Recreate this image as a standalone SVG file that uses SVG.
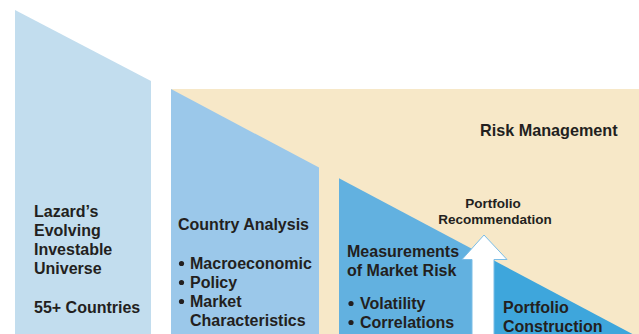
<svg xmlns="http://www.w3.org/2000/svg" width="639" height="334" viewBox="0 0 639 334">
  <style>
    .t { font-family: "Liberation Sans", Arial, sans-serif; font-weight: bold; fill: #231f20; font-size: 16px; }
    .s { font-size: 13.5px; }
    .dot { fill: #231f20; }
  </style>
  <rect width="639" height="334" fill="#ffffff"/>

  <!-- Risk management backdrop -->
  <g id="risk-management">
    <rect x="171" y="89" width="468" height="245" fill="#f7e8c8"/>
    <text class="t" x="480" y="136" style="font-size:16.2px">Risk Management</text>
  </g>

  <!-- Universe column -->
  <g id="universe">
    <polygon points="15,10 151,81 151,334 15,334" fill="#c2ddee"/>
    <text class="t" x="34" y="217">Lazard’s</text>
    <text class="t" x="34" y="236">Evolving</text>
    <text class="t" x="34" y="255">Investable</text>
    <text class="t" x="34" y="274">Universe</text>
    <text class="t" x="34" y="313">55+ Countries</text>
  </g>

  <!-- Country analysis column -->
  <g id="country-analysis">
    <polygon points="171,89 319,167.6 319,334 171,334" fill="#9bc8ea"/>
    <text class="t" x="178" y="230">Country Analysis</text>
    <circle class="dot" cx="181.5" cy="263.5" r="2.6"/><text class="t" x="190" y="269">Macroeconomic</text>
    <circle class="dot" cx="181.5" cy="282.5" r="2.6"/><text class="t" x="190" y="288">Policy</text>
    <circle class="dot" cx="181.5" cy="301.5" r="2.6"/><text class="t" x="190" y="307">Market</text>
    <text class="t" x="190" y="326">Characteristics</text>
  </g>

  <!-- Market risk column -->
  <g id="market-risk">
    <polygon points="339,178.2 494,260.5 494,334 339,334" fill="#62b1e0"/>
    <text class="t" x="347" y="257">Measurements</text>
    <text class="t" x="347" y="276">of Market Risk</text>
    <circle class="dot" cx="351" cy="303.5" r="2.6"/><text class="t" x="360" y="309">Volatility</text>
    <circle class="dot" cx="351" cy="322.5" r="2.6"/><text class="t" x="360" y="328">Correlations</text>
  </g>

  <!-- Portfolio construction column -->
  <g id="portfolio-construction">
    <polygon points="494,260.5 639,337.5 639,340 494,340" fill="#3ea6dc"/>
    <text class="t" x="503" y="313">Portfolio</text>
    <text class="t" x="503" y="332">Construction</text>
  </g>

  <!-- Upward arrow to the recommendation -->
  <g id="connectors">
    <polygon points="484,235 507,259.5 494,259.5 494,336 472,336 472,259.5 462,259.5" fill="#ffffff" stroke="#7bbde6" stroke-width="1" stroke-linejoin="miter"/>
  </g>

  <g id="portfolio-recommendation">
    <text class="t s" x="493" y="208" text-anchor="middle">Portfolio</text>
    <text class="t s" x="495" y="224" text-anchor="middle">Recommendation</text>
  </g>
</svg>
